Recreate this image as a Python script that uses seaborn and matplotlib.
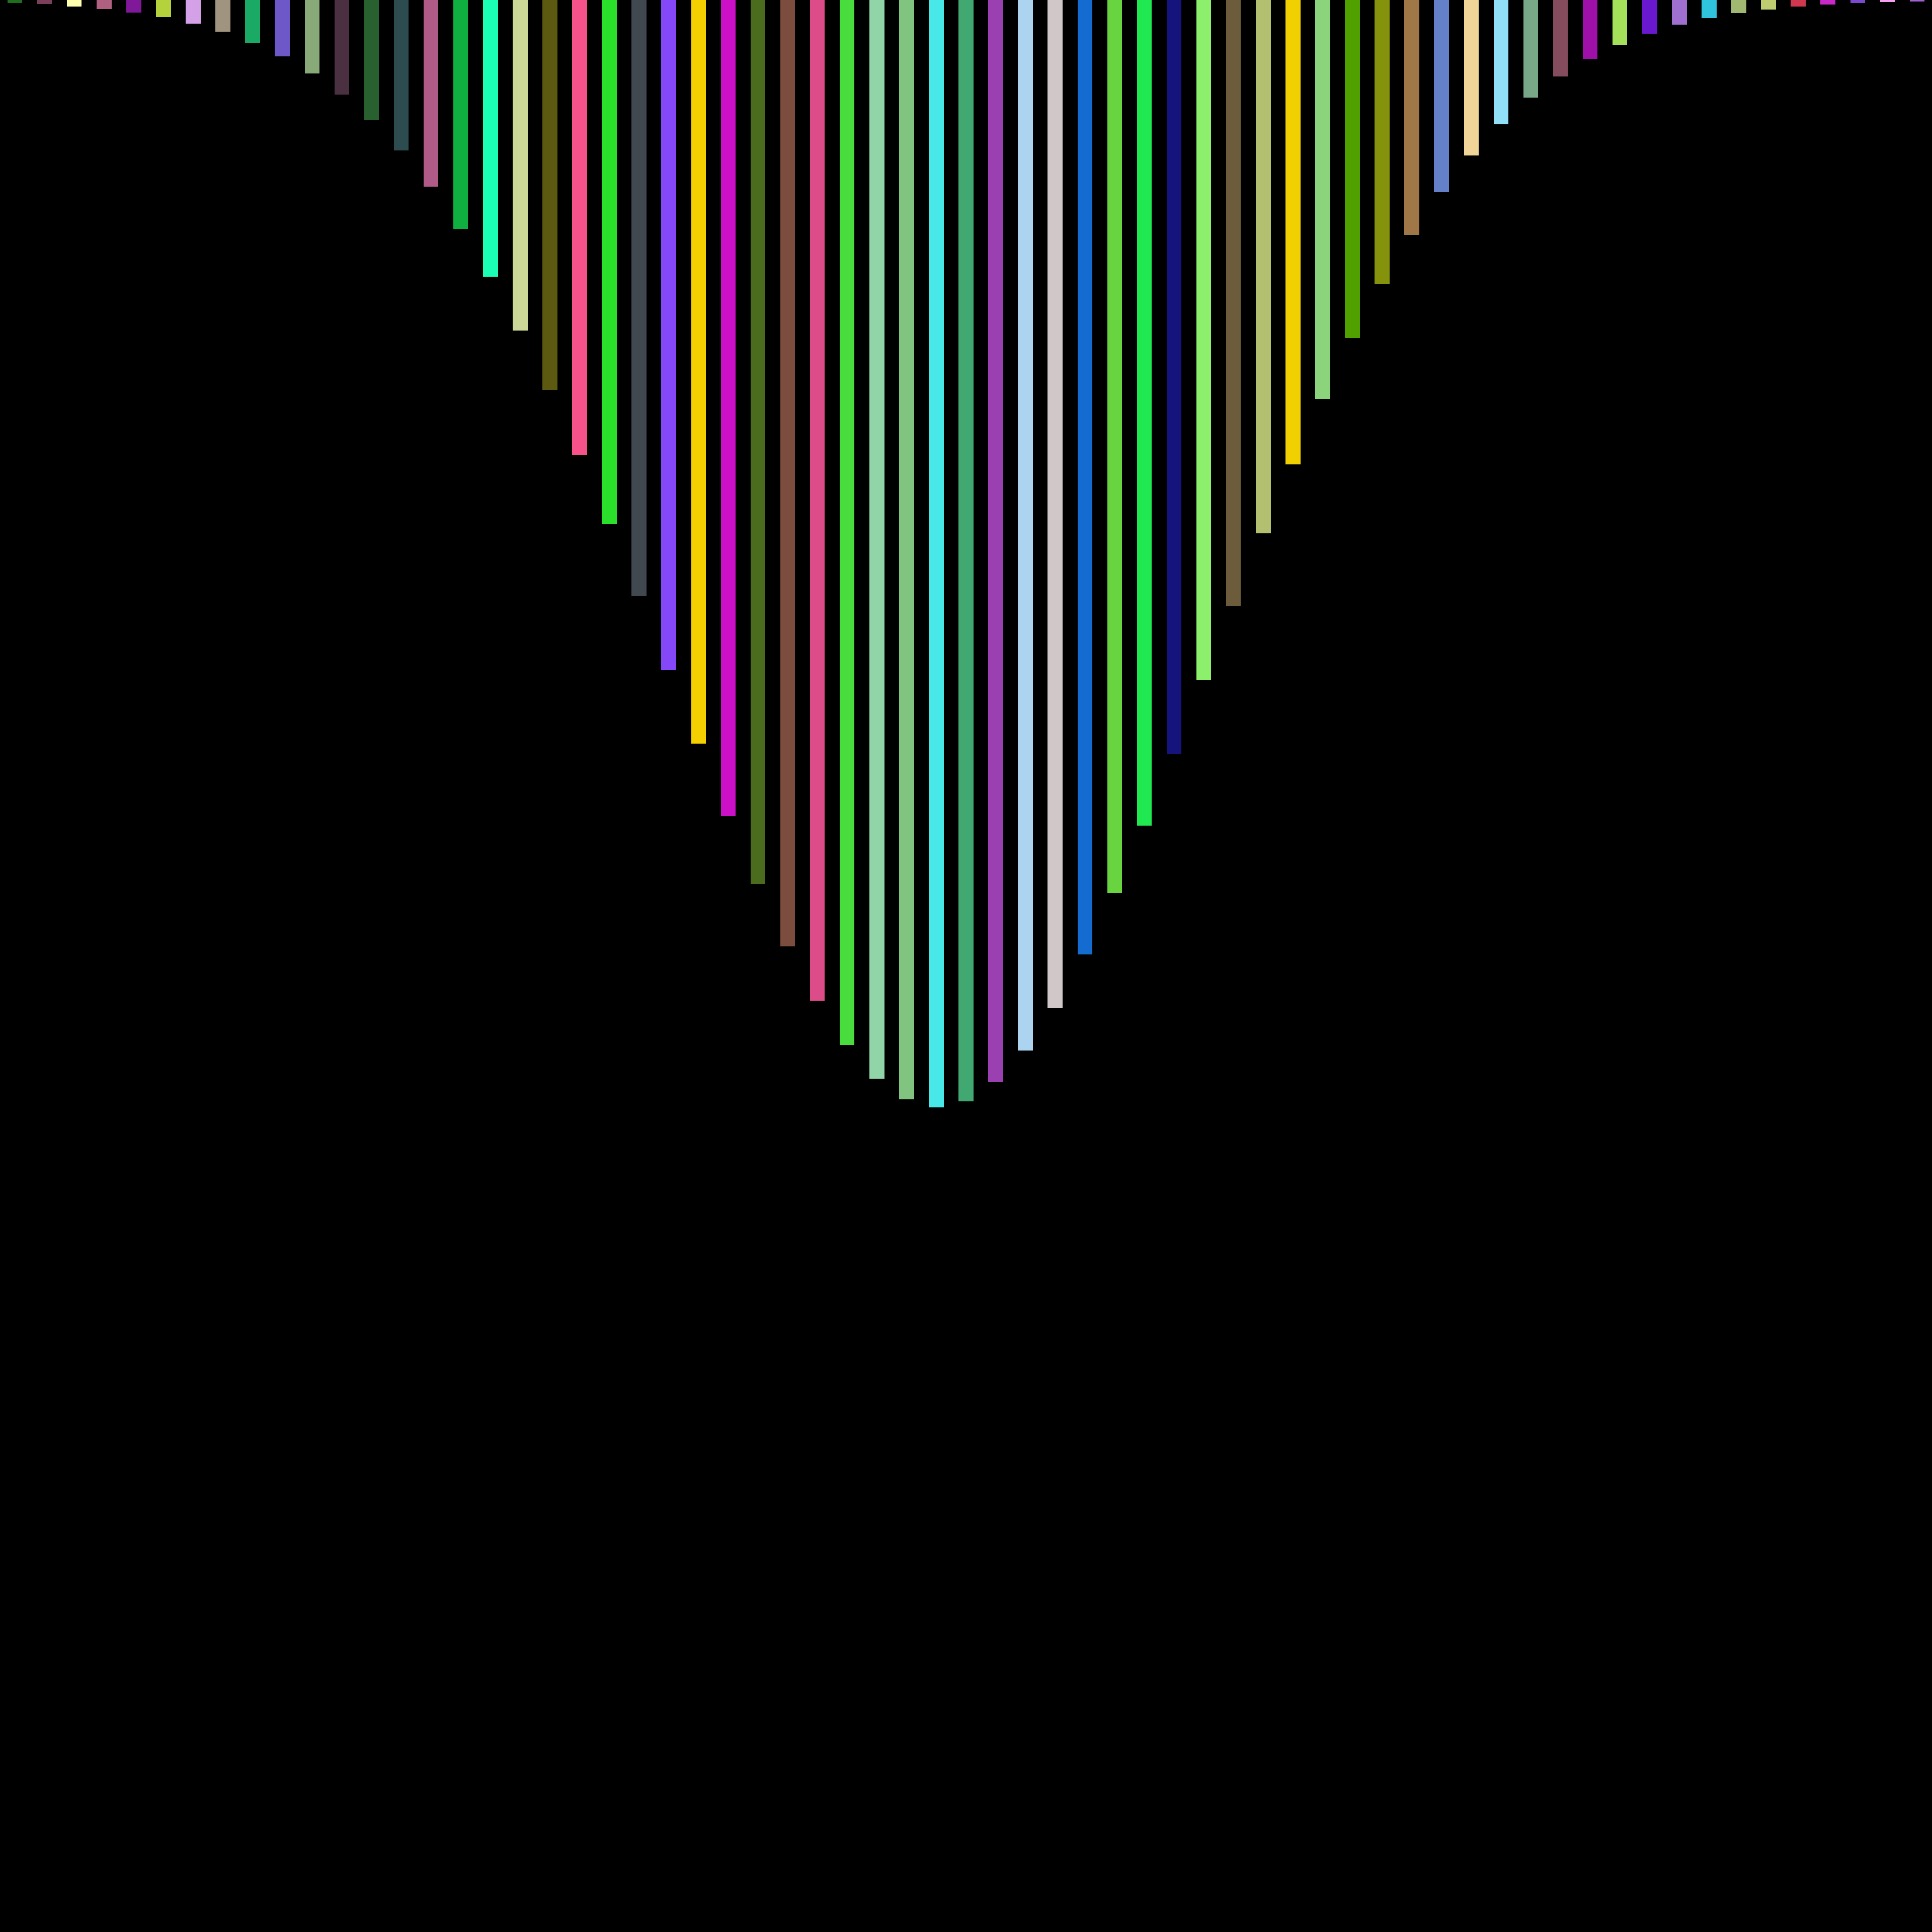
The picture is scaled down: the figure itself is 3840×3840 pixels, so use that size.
import matplotlib
matplotlib.use("Agg")
import matplotlib.pyplot as plt
import seaborn as sns
import pandas as pd
import numpy as np

# bar lengths (hanging down from the top)
heights = [
    5.7, 8.3, 12.7, 17.7, 24.7, 34.3, 47.3, 63.3, 85, 112.3,
    145.7, 187.7, 238.3, 299, 370.7, 454.5, 550.4, 656.6, 774.8, 904.2,
    1041.1, 1185.4, 1331.6, 1477.8, 1622.1, 1757.1, 1881.1, 1988.9, 2077.1, 2143.6,
    2185.4, 2200.7, 2188.9, 2151.4, 2088.2, 2002.5, 1896.8, 1775.4, 1640.7, 1499.2,
    1352.1, 1205, 1059.7, 922.9, 793.4, 672.4, 564.4, 466.6, 381.9, 309,
    246.7, 194.3, 151.7, 116.7, 88.7, 66.7, 49.3, 36, 25.7, 18.7,
    13, 9.3, 6.3, 4.3, 2.7,
]

bar_colors = [
    "#1e6e1e", "#7a3f5a", "#ffffb0", "#b06080", "#80189a", "#b4d23c", "#d4a0e8", "#a09480",
    "#1aaa66", "#6e58c8", "#88aa78", "#4a3040", "#286030", "#2c4c50", "#b05a88", "#0fb040",
    "#1affb4", "#ccd898", "#5c5a10", "#f8528a", "#2ae02a", "#424850", "#8448f8", "#f4d000",
    "#cc10c8", "#4a6c1c", "#7c4c3e", "#dc4c88", "#48dc3c", "#90d4a8", "#80c480", "#48e8e8",
    "#40a870", "#9a40b0", "#acd4f0", "#d0c8c8", "#146cd0", "#68d440", "#20e850", "#14147c",
    "#8cf06c", "#6c5c3c", "#b2c070", "#f0d000", "#8cd47c", "#50a000", "#84920c", "#a07848",
    "#6480c8", "#f0d498", "#90e0f8", "#78a888", "#844c5c", "#9e10a8", "#a4e05a", "#6a18d0",
    "#a070d0", "#30c4dc", "#a0b870", "#c0cc70", "#d03850", "#c828c8", "#7a48d0", "#f8a0f0",
    "#a060d0",
]

df = pd.DataFrame({"idx": np.arange(len(heights)), "h": heights})

fig = plt.figure(figsize=(12.8, 12.8), facecolor="black")
ax = fig.add_axes([0, 0, 1, 1])
ax.set_facecolor("black")

sns.barplot(data=df, x="idx", y="h", hue="idx", palette=bar_colors,
            legend=False, width=0.5, linewidth=0, saturation=1, ax=ax)

ax.set_xlim(-0.5, len(heights) - 0.5)
ax.set_ylim(3840, 0)
ax.axis("off")

fig.savefig("out.png", dpi=300, facecolor="black")
